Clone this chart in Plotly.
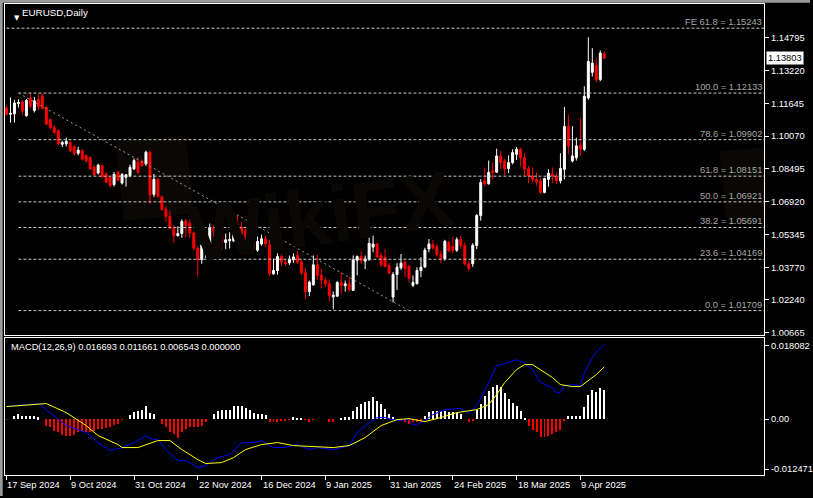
import plotly.graph_objects as go
import pandas as pd

W, H = 813, 498

# ---------------- data ----------------
_days = pd.bdate_range("2024-09-17", "2025-04-17")
_days = _days[~_days.strftime("%m-%d").isin(["12-25", "01-01"])]
dates = [d.strftime("%Y-%m-%d") for d in _days]

ohlc_rows = [
    (1.1142, 1.1152, 1.1105, 1.1112), (1.1112, 1.1192, 1.1072, 1.1116), (1.1114, 1.1180, 1.1072, 1.1166),
    (1.1163, 1.1184, 1.1144, 1.1168), (1.1170, 1.1180, 1.1110, 1.1127), (1.1105, 1.1185, 1.1100, 1.1178),
    (1.1190, 1.1213, 1.1140, 1.1150), (1.1130, 1.1195, 1.1120, 1.1176), (1.1183, 1.1206, 1.1130, 1.1150),
    (1.1200, 1.1212, 1.1136, 1.1140), (1.1144, 1.1150, 1.1060, 1.1064), (1.1085, 1.1092, 1.1040, 1.1048),
    (1.1048, 1.1060, 1.1018, 1.1025), (1.1033, 1.1040, 1.0962, 1.0970), (1.0968, 1.0985, 1.0955, 1.0977),
    (1.0970, 1.1000, 1.0958, 1.0982), (1.0976, 1.0985, 1.0930, 1.0937), (1.0956, 1.0963, 1.0915, 1.0922),
    (1.0925, 1.0956, 1.0915, 1.0940), (1.0937, 1.0945, 1.0890, 1.0897), (1.0913, 1.0920, 1.0880, 1.0889),
    (1.0905, 1.0910, 1.0845, 1.0850), (1.0858, 1.0870, 1.0815, 1.0822), (1.0830, 1.0875, 1.0823, 1.0868),
    (1.0866, 1.0870, 1.0805, 1.0813), (1.0826, 1.0833, 1.0780, 1.0786), (1.0810, 1.0815, 1.0760, 1.0770),
    (1.0775, 1.0835, 1.0765, 1.0823), (1.0834, 1.0840, 1.0790, 1.0795), (1.0782, 1.0830, 1.0775, 1.0823),
    (1.0810, 1.0825, 1.0765, 1.0822), (1.0818, 1.0870, 1.0810, 1.0858), (1.0850, 1.0900, 1.0845, 1.0890),
    (1.0882, 1.0905, 1.0825, 1.0834), (1.0887, 1.0895, 1.0860, 1.0866), (1.0873, 1.0937, 1.0865, 1.0930),
    (1.0930, 1.0937, 1.0683, 1.0725), (1.0728, 1.0826, 1.0715, 1.0800), (1.0800, 1.0805, 1.0710, 1.0719),
    (1.0716, 1.0722, 1.0650, 1.0655), (1.0655, 1.0670, 1.0595, 1.0622), (1.0622, 1.0650, 1.0560, 1.0565),
    (1.0565, 1.0580, 1.0495, 1.0530), (1.0530, 1.0575, 1.0525, 1.0540), (1.0540, 1.0608, 1.0520, 1.0598),
    (1.0600, 1.0610, 1.0522, 1.0578), (1.0590, 1.0608, 1.0520, 1.0543), (1.0543, 1.0550, 1.0460, 1.0470),
    (1.0470, 1.0480, 1.0333, 1.0414), (1.0415, 1.0535, 1.0395, 1.0485), (1.0476, 1.0546, 1.0422, 1.0489),
    (1.0485, 1.0588, 1.0478, 1.0567), (1.0567, 1.0582, 1.0522, 1.0553), (1.0545, 1.0600, 1.0530, 1.0578),
    (1.0575, 1.0585, 1.0460, 1.0500), (1.0497, 1.0540, 1.0465, 1.0510), (1.0505, 1.0546, 1.0468, 1.0512),
    (1.0505, 1.0600, 1.0500, 1.0586), (1.0586, 1.0630, 1.0555, 1.0566), (1.0570, 1.0595, 1.0530, 1.0538),
    (1.0555, 1.0565, 1.0510, 1.0522), (1.0530, 1.0545, 1.0485, 1.0492), (1.0500, 1.0515, 1.0455, 1.0467),
    (1.0460, 1.0525, 1.0452, 1.0502), (1.0490, 1.0535, 1.0482, 1.0515), (1.0515, 1.0530, 1.0475, 1.0490),
    (1.0486, 1.0510, 1.0335, 1.0347), (1.0347, 1.0420, 1.0343, 1.0363), (1.0363, 1.0445, 1.0343, 1.0430),
    (1.0431, 1.0440, 1.0385, 1.0403), (1.0403, 1.0416, 1.0385, 1.0395), (1.0400, 1.0435, 1.0390, 1.0418),
    (1.0414, 1.0445, 1.0400, 1.0428), (1.0435, 1.0455, 1.0393, 1.0403), (1.0405, 1.0415, 1.0340, 1.0352),
    (1.0352, 1.0375, 1.0225, 1.0262), (1.0262, 1.0315, 1.0240, 1.0307), (1.0294, 1.0435, 1.0290, 1.0390),
    (1.0390, 1.0437, 1.0320, 1.0340), (1.0340, 1.0372, 1.0277, 1.0317), (1.0316, 1.0330, 1.0285, 1.0300),
    (1.0300, 1.0320, 1.0215, 1.0243), (1.0237, 1.0262, 1.0177, 1.0245), (1.0240, 1.0313, 1.0237, 1.0305),
    (1.0305, 1.0354, 1.0252, 1.0292), (1.0290, 1.0315, 1.0262, 1.0299), (1.0298, 1.0333, 1.0260, 1.0272),
    (1.0268, 1.0435, 1.0265, 1.0414), (1.0412, 1.0435, 1.0340, 1.0430), (1.0430, 1.0455, 1.0395, 1.0408),
    (1.0408, 1.0435, 1.0370, 1.0419), (1.0415, 1.0522, 1.0410, 1.0493), (1.0475, 1.0530, 1.0450, 1.0490),
    (1.0490, 1.0496, 1.0425, 1.0428), (1.0434, 1.0450, 1.0380, 1.0390), (1.0426, 1.0466, 1.0378, 1.0382),
    (1.0387, 1.0400, 1.0345, 1.0350), (1.0236, 1.0355, 1.0210, 1.0344), (1.0344, 1.0398, 1.0270, 1.0379),
    (1.0376, 1.0442, 1.0366, 1.0398), (1.0403, 1.0411, 1.0332, 1.0372), (1.0382, 1.0390, 1.0305, 1.0325),
    (1.0292, 1.0339, 1.0283, 1.0306), (1.0300, 1.0378, 1.0296, 1.0363), (1.0363, 1.0427, 1.0331, 1.0379),
    (1.0380, 1.0472, 1.0375, 1.0461), (1.0466, 1.0514, 1.0450, 1.0490), (1.0487, 1.0509, 1.0462, 1.0472),
    (1.0477, 1.0490, 1.0430, 1.0440), (1.0440, 1.0458, 1.0398, 1.0420), (1.0420, 1.0510, 1.0410, 1.0503),
    (1.0498, 1.0506, 1.0450, 1.0458), (1.0478, 1.0525, 1.0446, 1.0460), (1.0460, 1.0522, 1.0452, 1.0511),
    (1.0511, 1.0530, 1.0467, 1.0483), (1.0483, 1.0499, 1.0387, 1.0395), (1.0395, 1.0410, 1.0360, 1.0372),
    (1.0395, 1.0494, 1.0380, 1.0484), (1.0483, 1.0634, 1.0466, 1.0626), (1.0626, 1.0801, 1.0602, 1.0785),
    (1.0793, 1.0856, 1.0767, 1.0778), (1.0778, 1.0890, 1.0775, 1.0833), (1.0840, 1.0880, 1.0800, 1.0834),
    (1.0834, 1.0947, 1.0830, 1.0912), (1.0912, 1.0936, 1.0850, 1.0881), (1.0888, 1.0899, 1.0820, 1.0849),
    (1.0852, 1.0915, 1.0830, 1.0880), (1.0880, 1.0944, 1.0872, 1.0928), (1.0920, 1.0955, 1.0893, 1.0944),
    (1.0944, 1.0952, 1.0862, 1.0904), (1.0904, 1.0925, 1.0816, 1.0848), (1.0850, 1.0864, 1.0782, 1.0816),
    (1.0816, 1.0856, 1.0785, 1.0800), (1.0800, 1.0832, 1.0770, 1.0788), (1.0792, 1.0806, 1.0730, 1.0737),
    (1.0737, 1.0808, 1.0733, 1.0804), (1.0800, 1.0848, 1.0765, 1.0829), (1.0825, 1.0857, 1.0782, 1.0817),
    (1.0814, 1.0832, 1.0777, 1.0793), (1.0793, 1.0925, 1.0780, 1.0852), (1.0848, 1.1147, 1.0800, 1.1053),
    (1.1053, 1.1110, 1.0920, 1.0960), (1.0888, 1.1055, 1.0880, 1.0912), (1.0904, 1.1000, 1.0890, 1.0960),
    (1.0963, 1.1095, 1.0912, 1.0944), (1.0944, 1.1246, 1.0936, 1.1198), (1.1190, 1.1481, 1.1182, 1.1365),
    (1.1313, 1.1429, 1.1293, 1.1357), (1.1345, 1.1381, 1.1265, 1.1278), (1.1278, 1.1418, 1.1270, 1.1405),
    (1.1402, 1.1413, 1.1376, 1.13803),
]
open_ = [r[0] for r in ohlc_rows]
high = [r[1] for r in ohlc_rows]
low = [r[2] for r in ohlc_rows]
close = [r[3] for r in ohlc_rows]

# MACD main line (blue) read at bar indices
macd_idx = [0, 8, 15, 20, 23, 26, 29, 32, 35, 36, 38, 40, 43, 45, 48, 50, 53, 56, 59, 62, 64, 67, 70, 73,
            76, 78, 82, 86, 88, 91, 93, 95, 98, 101, 102, 103, 105, 107, 110, 113, 114, 116, 118, 121, 123,
            125, 127, 128, 130, 132, 134, 137, 138, 139, 140, 142, 144, 145, 147, 148, 150]
macd_val = [0.00281, 0.00348, -0.00143, -0.00299, -0.00522, -0.00700, -0.00633, -0.00522, -0.00366, -0.00433,
            -0.00455, -0.00678, -0.00923, -0.00923, -0.01079, -0.01035, -0.00856, -0.00789, -0.00522, -0.00522,
            -0.00477, -0.00633, -0.00633, -0.00566, -0.00678, -0.00633, -0.00678, -0.00589, -0.00299, -0.00076,
            0.00036, 0.00036, -0.00031, -0.00009, -0.00120, -0.00120, -0.00031, 0.00103, 0.00214, 0.00236,
            0.00236, 0.00125, 0.00303, 0.00816, 0.01195, 0.01240, 0.01307, 0.01329, 0.01262, 0.01106, 0.00816,
            0.00705, 0.00593, 0.00593, 0.00749, 0.00772, 0.00749, 0.01039, 0.01374, 0.01485, 0.016693]

# signal line (yellow)
sig_idx = [0, 10, 15, 20, 23, 28, 29, 33, 38, 41, 44, 48, 50, 54, 57, 60, 64, 68, 72, 76, 82, 86, 90, 94,
           98, 101, 105, 109, 113, 118, 121, 123, 125, 128, 130, 132, 134, 137, 139, 142, 144, 146, 148, 150]
sig_val = [0.00281, 0.00348, 0.00147, -0.00143, -0.00366, -0.00566, -0.00633, -0.00633, -0.00477, -0.00477,
           -0.00678, -0.00901, -0.00990, -0.00968, -0.00856, -0.00678, -0.00566, -0.00522, -0.00589, -0.00611,
           -0.00633, -0.00589, -0.00410, -0.00143, -0.00009, 0.00013, -0.00054, 0.00036, 0.00147, 0.00214,
           0.00326, 0.00549, 0.00816, 0.01106, 0.01218, 0.01218, 0.01106, 0.00928, 0.00772, 0.00727, 0.00727,
           0.00861, 0.00995, 0.011661]

# histogram
hist = [
    -0.00015, 0, 0.00059, 0.00112, 0.00074, 0.00074, 0.00059, 0.00059, 0.00037, 0,
    -0.00149, -0.00186, -0.00260, -0.00297, -0.00357, -0.00387, -0.00387, -0.00357, -0.00297, -0.00260,
    -0.00297, -0.00282, -0.00260, -0.00223, -0.00223, -0.00208, -0.00186, -0.00134, -0.00112, -0.00015,
    0, 0.00089, 0.00149, 0.00171, 0.00208, 0.00297, 0.00134, 0.00112, 0, -0.00112,
    -0.00186, -0.00297, -0.00335, -0.00424, -0.00297, -0.00223, -0.00186, -0.00186, -0.00171, -0.00149,
    -0.00059, 0, 0.00112, 0.00186, 0.00208, 0.00208, 0.00208, 0.00282, 0.00297, 0.00282,
    0.00238, 0.00208, 0.00134, 0.00112, 0.00112, 0.00089, -0.00059, -0.00074, -0.00059, -0.00037,
    -0.00037, -0.00015, 0.00037, 0.00015, 0.00015, -0.00015, -0.00059, -0.00015, 0, 0,
    0, -0.00059, -0.00059, 0, 0.00015, 0.00037, 0.00037, 0.00186, 0.00260, 0.00335,
    0.00372, 0.00409, 0.00483, 0.00409, 0.00335, 0.00223, 0.00112, 0.00050, 0, -0.00037,
    -0.00059, -0.00112, -0.00074, -0.00059, -0.00037, 0.00059, 0.00149, 0.00186, 0.00186, 0.00171,
    0.00171, 0.00149, 0.00149, 0.00126, 0.00112, 0, -0.00074, -0.00037, 0.00208, 0.00335,
    0.00520, 0.00632, 0.00706, 0.00758, 0.00706, 0.00572, 0.00446, 0.00357, 0.00282, 0.00171,
    0.00015, -0.00149, -0.00238, -0.00297, -0.00409, -0.00409, -0.00372, -0.00335, -0.00297, -0.00245,
    -0.00037, 0.00059, 0.00059, 0.00059, 0.00074, 0.00260, 0.00535, 0.00654, 0.00610, 0.00684,
    0.006543,
]

price_ticks = [1.14795, 1.13220, 1.11645, 1.10070, 1.08495, 1.06920, 1.05345, 1.03770, 1.02240, 1.00665]
price_tick_text = ["1.14795", "1.13220", "1.11645", "1.10070", "1.08495", "1.06920", "1.05345",
                   "1.03770", "1.02240", "1.00665"]

tick_dates = ["2024-09-17", "2024-10-09", "2024-10-31", "2024-11-22", "2024-12-16",
              "2025-01-09", "2025-01-31", "2025-02-24", "2025-03-18", "2025-04-09"]
tick_labels = ["17 Sep 2024", "9 Oct 2024", "31 Oct 2024", "22 Nov 2024", "16 Dec 2024",
               "9 Jan 2025", "31 Jan 2025", "24 Feb 2025", "18 Mar 2025", "9 Apr 2025"]

fib_names = ["FE 61.8", "100.0", "78.6", "61.8", "50.0", "38.2", "23.6", "0.0"]
fib_prices = [1.15243, 1.12133, 1.09902, 1.08151, 1.06921, 1.05691, 1.04169, 1.01709]
fib_start = [0, 3, 3, 3, 3, 3, 3, 3]
trend_from = (3, 1.12133)
trend_to = (101, 1.01709)

current_price = 1.13803
macd_title = "MACD(12,26,9) 0.016693 0.011661 0.006543 0.000000"
macd_top, macd_bottom = 0.018082, -0.012471

# ---------------- layout helpers ----------------
FONT = "Liberation Sans"
FS = 9.3
def px_x(x):
    return x / W
def px_y(y):
    return 1 - y / H

X_L, X_R = 5, 767
MAIN_T, MAIN_B = 4.5, 336.5
MACD_T, MACD_B = 339.5, 477
XR = [-0.375, 190.125]

fig = go.Figure()

fig.add_trace(go.Candlestick(
    x=dates, open=open_, high=high, low=low, close=close,
    increasing=dict(line=dict(color="#ffffff", width=1), fillcolor="#ffffff"),
    decreasing=dict(line=dict(color="#ff0000", width=1), fillcolor="#ff0000"),
    whiskerwidth=0, xaxis="x", yaxis="y", showlegend=False, hoverinfo="skip"))

fig.add_trace(go.Bar(
    x=dates, y=hist, width=0.25,
    marker=dict(color=["#ffffff" if v >= 0 else "#ff0000" for v in hist], line=dict(width=0)),
    xaxis="x2", yaxis="y2", showlegend=False, hoverinfo="skip"))

fig.add_trace(go.Scatter(
    x=[dates[i] for i in macd_idx], y=macd_val, mode="lines",
    line=dict(color="#0000ff", width=1), xaxis="x2", yaxis="y2", showlegend=False, hoverinfo="skip"))
fig.add_trace(go.Scatter(
    x=[dates[i] for i in sig_idx], y=sig_val, mode="lines",
    line=dict(color="#ffff00", width=1), xaxis="x2", yaxis="y2", showlegend=False, hoverinfo="skip"))

# main price range from pixel geometry (1.14795 at y=37.7, 1.00665 at y=333.7)
scale = (333.7 - 37.7) / (1.14795 - 1.00665)
y_top = 1.14795 + (37.7 - MAIN_T) / scale
y_bot = 1.14795 - (MAIN_B - 37.7) / scale

mscale = (MACD_B - MACD_T) / (macd_top - macd_bottom)
zero_y = MACD_T + macd_top * mscale

axis_common = dict(showgrid=False, zeroline=False, showline=True, linecolor="#ffffff", linewidth=1, mirror=True)

fig.update_layout(
    width=W, height=H, margin=dict(l=0, r=0, t=0, b=0),
    paper_bgcolor="#000000", plot_bgcolor="#000000",
    showlegend=False, bargap=0,
    xaxis=dict(domain=[px_x(X_L), px_x(X_R)], range=XR, type="category",
               categoryorder="array", categoryarray=dates, anchor="y",
               showticklabels=False, ticks="", rangeslider=dict(visible=False), **axis_common),
    yaxis=dict(domain=[px_y(MAIN_B), px_y(MAIN_T)], range=[y_bot, y_top], side="right", anchor="x",
               tickvals=price_ticks, ticktext=price_tick_text, ticks="outside", ticklen=4,
               tickcolor="#ffffff", tickfont=dict(family=FONT, size=FS, color="#ffffff"), **axis_common),
    xaxis2=dict(domain=[px_x(X_L), px_x(X_R)], range=XR, type="category",
                categoryorder="array", categoryarray=dates, anchor="y2",
                tickvals=tick_dates, ticks="outside", ticklen=4, tickcolor="#ffffff",
                showticklabels=False, **axis_common),
    yaxis2=dict(domain=[px_y(MACD_B), px_y(MACD_T)], range=[macd_bottom, macd_top], side="right",
                anchor="x2",
                tickvals=[(zero_y - 347) / mscale, 0.0, (zero_y - 471) / mscale],
                ticktext=["%.6f" % macd_top, "0.00", "%.6f" % macd_bottom],
                ticks="outside", ticklen=4, tickcolor="#ffffff",
                tickfont=dict(family=FONT, size=FS, color="#ffffff"), **axis_common),
)

WM = "#0a0804"
shapes = []
# watermark logos (very faint)
shapes.append(dict(type="path", xref="paper", yref="paper", layer="below",
                   path="M %f %f L %f %f L %f %f L %f %f Z" % (px_x(116), px_y(142), px_x(186), px_y(136),
                                                               px_x(195), px_y(214), px_x(124), px_y(222)),
                   fillcolor=WM, line=dict(width=0)))
shapes.append(dict(type="path", xref="paper", yref="paper", layer="below",
                   path="M %f %f L %f %f L %f %f L %f %f Z" % (px_x(722), px_y(152), px_x(767), px_y(148),
                                                               px_x(767), px_y(222), px_x(729), px_y(226)),
                   fillcolor=WM, line=dict(width=0)))
# fibonacci levels
for name, p, s in zip(fib_names, fib_prices, fib_start):
    shapes.append(dict(type="line", xref="x", yref="y", x0=s, x1=XR[1], y0=p, y1=p,
                       line=dict(color="#c8c8c8", width=1, dash="3px,2px")))
# fib trend line
shapes.append(dict(type="line", xref="x", yref="y", x0=trend_from[0], y0=trend_from[1],
                   x1=trend_to[0], y1=trend_to[1], line=dict(color="#9a9a9a", width=1, dash="2px,3px")))
# window frame
shapes.append(dict(type="rect", xref="paper", yref="paper", x0=0, x1=1, y0=px_y(2.7), y1=1,
                   fillcolor="#9a9a9a", line=dict(width=0), layer="above"))
shapes.append(dict(type="rect", xref="paper", yref="paper", x0=0, x1=px_x(2.7), y0=0, y1=1,
                   fillcolor="#9a9a9a", line=dict(width=0), layer="above"))
# separator between panels over the price-axis area
shapes.append(dict(type="rect", xref="paper", yref="paper", x0=px_x(768), x1=1,
                   y0=px_y(MACD_T), y1=px_y(MAIN_B + 0.5), fillcolor="#000000", line=dict(width=0),
                   layer="above"))
fig.update_layout(shapes=shapes)

ann = []
ann.append(dict(text="<b>WikiFX</b>", xref="paper", yref="paper", x=px_x(322), y=px_y(152), showarrow=False,
                font=dict(family=FONT, size=80, color=WM), textangle=-8))
ann.append(dict(text="▼", xref="paper", yref="paper", x=px_x(12.5), y=px_y(12.5), showarrow=False,
                font=dict(family="DejaVu Sans", size=7, color="#ffffff")))
ann.append(dict(text="EURUSD,Daily", xref="paper", yref="paper", x=px_x(20.5), y=px_y(12.8),
                xanchor="left", yanchor="middle", showarrow=False,
                font=dict(family=FONT, size=FS + 0.5, color="#ffffff")))
ann.append(dict(text=macd_title, xref="paper", yref="paper", x=px_x(9.5), y=px_y(348.5),
                xanchor="left", yanchor="middle", showarrow=False,
                font=dict(family=FONT, size=FS, color="#ffffff")))
for name, p in zip(fib_names, fib_prices):
    ann.append(dict(text="%s = %.5f" % (name, p), xref="paper", yref="y", x=px_x(766.5), y=p,
                    xanchor="right", yanchor="bottom", showarrow=False, yshift=-1,
                    font=dict(family=FONT, size=FS, color="#a8a8a8")))
ann.append(dict(text="%.5f" % current_price, xref="paper", yref="y", x=px_x(769), y=current_price,
                xanchor="left", yanchor="middle", showarrow=False, bgcolor="#ffffff", borderpad=1,
                font=dict(family=FONT, size=FS, color="#000000")))
for d, lab in zip(tick_dates, tick_labels):
    ann.append(dict(text=lab, xref="x2", yref="paper", x=d, y=px_y(487), xanchor="left",
                    yanchor="middle", showarrow=False, xshift=-1,
                    font=dict(family=FONT, size=FS, color="#ffffff")))
fig.update_layout(annotations=ann)

fig.write_html("out.html", config={"displayModeBar": False},
               post_script="document.body.style.margin='0';document.body.style.background='#000';")
